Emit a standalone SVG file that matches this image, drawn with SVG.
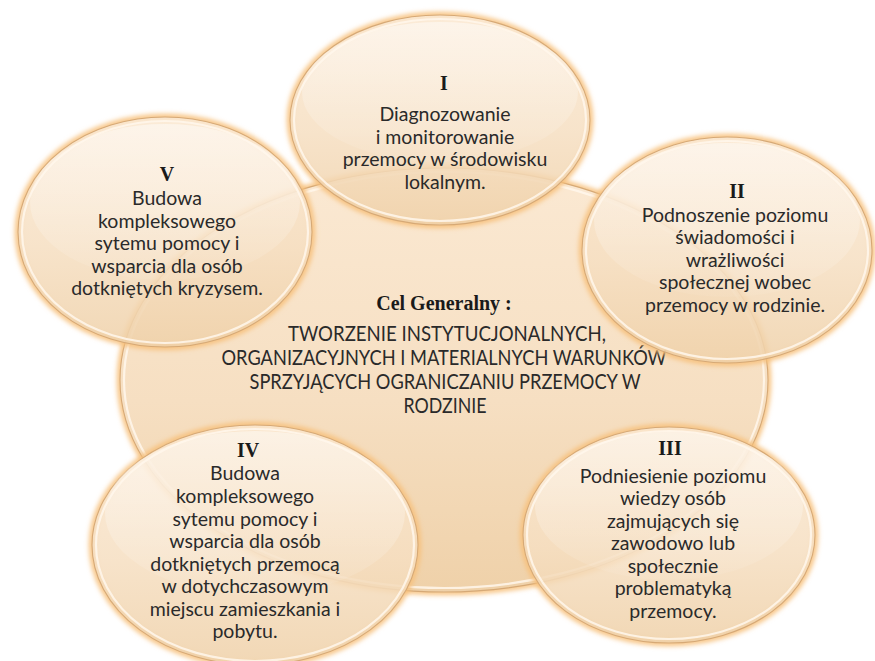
<svg xmlns="http://www.w3.org/2000/svg" width="875" height="661" viewBox="0 0 875 661">
<style>
.glow{fill:none;stroke:#f7c07a;stroke-width:6;filter:url(#blur)}
.body{fill:url(#fillGrad);stroke:#d6a976;stroke-width:1.1}
.small .body{fill-opacity:0.86}
.rim{fill:none;stroke:#fff7ec;stroke-width:2.2;stroke-opacity:0.85}
.shine{fill:url(#shineGrad)}
.num{font-family:"Liberation Serif","Times New Roman",serif;font-weight:bold;font-size:20px;fill:#1a1a1a;text-anchor:middle}
.txt{font-family:Lato,"Open Sans","Liberation Sans",sans-serif;font-size:19.5px;fill:#2a2a2a;text-anchor:middle}
.caps{font-family:Lato,"Open Sans","Liberation Sans",sans-serif;font-size:21px;fill:#2a2a2a;text-anchor:middle}
</style>
<defs>
<filter id="blur" x="-10%" y="-10%" width="120%" height="120%"><feGaussianBlur stdDeviation="2.5"/></filter>
<linearGradient id="fillGrad" x1="0" y1="0" x2="0" y2="1">
<stop offset="0" stop-color="#fbe9d3"/>
<stop offset="0.55" stop-color="#f6dfc2"/>
<stop offset="1" stop-color="#efd1a9"/>
</linearGradient>
<linearGradient id="shineGrad" x1="0" y1="0" x2="0" y2="1">
<stop offset="0" stop-color="#ffffff" stop-opacity="0.45"/>
<stop offset="1" stop-color="#ffffff" stop-opacity="0.05"/>
</linearGradient>
</defs>
<rect width="875" height="661" fill="#ffffff"/>

<g id="node-center">
<ellipse class="glow" cx="444" cy="380" rx="324" ry="212"/>
<ellipse class="body" cx="444" cy="380" rx="324" ry="212"/>
<ellipse class="rim" cx="444" cy="380" rx="320" ry="208"/>
<text class="num" x="444" y="310">Cel Generalny :</text>
<text class="caps" x="447" y="341" textLength="318" lengthAdjust="spacingAndGlyphs">TWORZENIE INSTYTUCJONALNYCH,</text>
<text class="caps" x="444" y="365" textLength="445" lengthAdjust="spacingAndGlyphs">ORGANIZACYJNYCH I MATERIALNYCH WARUNKÓW</text>
<text class="caps" x="445" y="389" textLength="391" lengthAdjust="spacingAndGlyphs">SPRZYJĄCYCH OGRANICZANIU PRZEMOCY W</text>
<text class="caps" x="445" y="413" textLength="83" lengthAdjust="spacingAndGlyphs">RODZINIE</text>
</g>

<g id="node-I" class="small">
<ellipse class="glow" cx="440" cy="120" rx="150" ry="105"/>
<ellipse class="body" cx="440" cy="120" rx="150" ry="105"/>
<ellipse class="shine" cx="440" cy="92" rx="138" ry="70"/>
<ellipse class="rim" cx="440" cy="120" rx="146" ry="101"/>
<text class="num" x="444" y="90">I</text>
<text class="txt" x="445" y="121">Diagnozowanie</text>
<text class="txt" x="445" y="144">i monitorowanie</text>
<text class="txt" x="445" y="166">przemocy w środowisku</text>
<text class="txt" x="445" y="189">lokalnym.</text>
</g>

<g id="node-V" class="small">
<ellipse class="glow" cx="165" cy="232" rx="147" ry="115"/>
<ellipse class="body" cx="165" cy="232" rx="147" ry="115"/>
<ellipse class="shine" cx="165" cy="202" rx="135" ry="78"/>
<ellipse class="rim" cx="165" cy="232" rx="143" ry="111"/>
<text class="num" x="167" y="181">V</text>
<text class="txt" x="167" y="205">Budowa</text>
<text class="txt" x="167" y="228">kompleksowego</text>
<text class="txt" x="167" y="250">sytemu pomocy i</text>
<text class="txt" x="167" y="273">wsparcia dla osób</text>
<text class="txt" x="167" y="295">dotkniętych kryzysem.</text>
</g>

<g id="node-II" class="small">
<ellipse class="glow" cx="727" cy="250" rx="145" ry="113"/>
<ellipse class="body" cx="727" cy="250" rx="145" ry="113"/>
<ellipse class="shine" cx="727" cy="220" rx="133" ry="77"/>
<ellipse class="rim" cx="727" cy="250" rx="141" ry="109"/>
<text class="num" x="737" y="198">II</text>
<text class="txt" x="735" y="222">Podnoszenie poziomu</text>
<text class="txt" x="735" y="244">świadomości i</text>
<text class="txt" x="735" y="267">wrażliwości</text>
<text class="txt" x="735" y="289">społecznej wobec</text>
<text class="txt" x="735" y="312">przemocy w rodzinie.</text>
</g>

<g id="node-IV" class="small">
<ellipse class="glow" cx="255" cy="545" rx="163" ry="120"/>
<ellipse class="body" cx="255" cy="545" rx="163" ry="120"/>
<ellipse class="shine" cx="255" cy="513" rx="150" ry="82"/>
<ellipse class="rim" cx="255" cy="545" rx="159" ry="116"/>
<text class="num" x="248" y="457">IV</text>
<text class="txt" x="245" y="480">Budowa</text>
<text class="txt" x="245" y="503">kompleksowego</text>
<text class="txt" x="245" y="526">sytemu pomocy i</text>
<text class="txt" x="245" y="548">wsparcia dla osób</text>
<text class="txt" x="245" y="571">dotkniętych przemocą</text>
<text class="txt" x="245" y="593">w dotychczasowym</text>
<text class="txt" x="245" y="616">miejscu zamieszkania i</text>
<text class="txt" x="245" y="638">pobytu.</text>
</g>

<g id="node-III" class="small">
<ellipse class="glow" cx="669" cy="535" rx="146" ry="108"/>
<ellipse class="body" cx="669" cy="535" rx="146" ry="108"/>
<ellipse class="shine" cx="669" cy="506" rx="134" ry="74"/>
<ellipse class="rim" cx="669" cy="535" rx="142" ry="104"/>
<text class="num" x="670" y="455">III</text>
<text class="txt" x="673" y="483">Podniesienie poziomu</text>
<text class="txt" x="673" y="505">wiedzy osób</text>
<text class="txt" x="673" y="528">zajmujących się</text>
<text class="txt" x="673" y="550">zawodowo lub</text>
<text class="txt" x="673" y="573">społecznie</text>
<text class="txt" x="673" y="595">problematyką</text>
<text class="txt" x="673" y="618">przemocy.</text>
</g>

<g id="connectors"></g>
</svg>
